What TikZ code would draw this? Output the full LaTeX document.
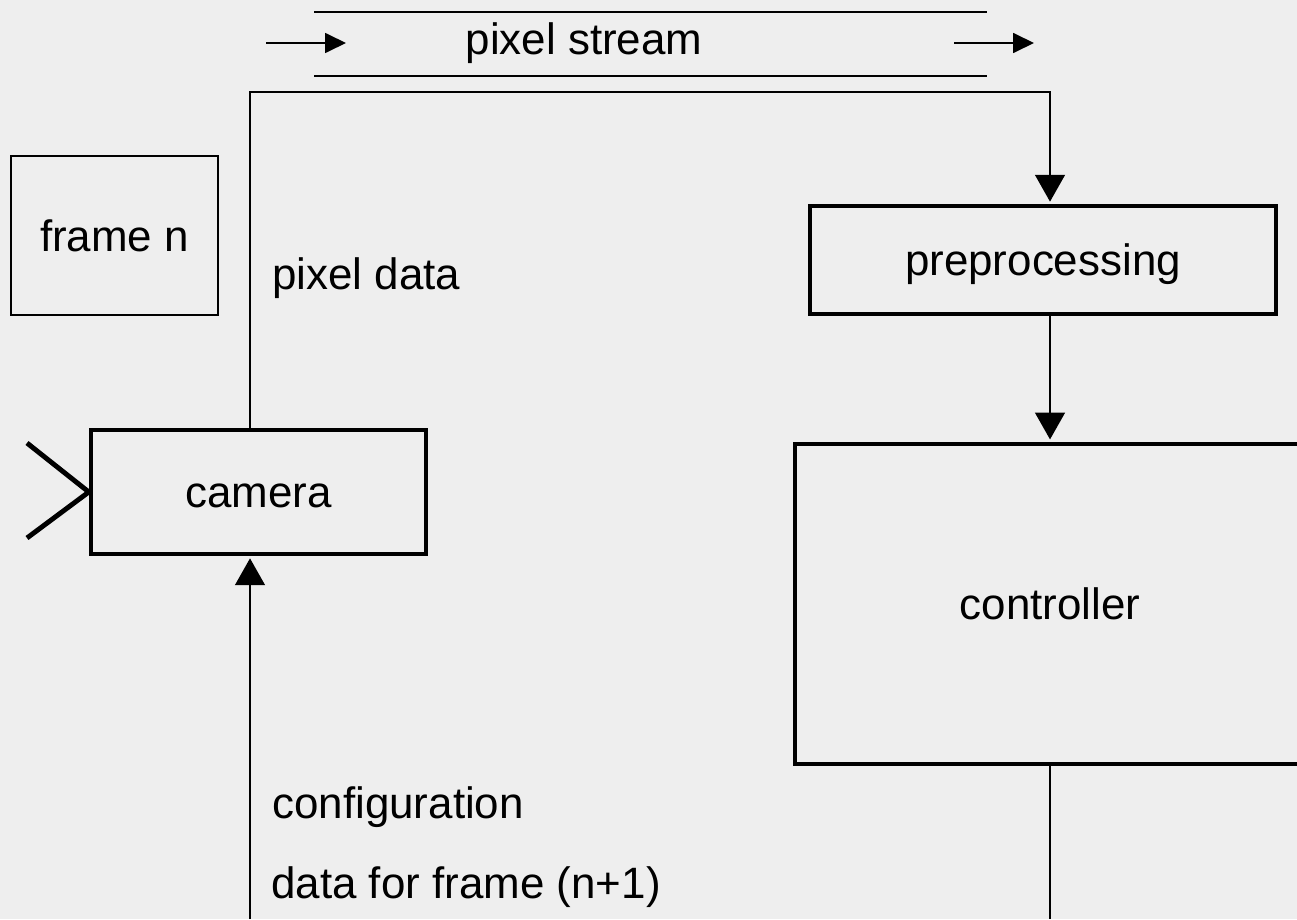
\documentclass[tikz,border=0pt]{standalone}
\usepackage{fontspec}
\setmainfont{Liberation Sans}
\usetikzlibrary{arrows.meta}
\definecolor{bggray}{RGB}{238,238,238}
\tikzset{
  block/.style={draw,line width=2.55pt,font=\fontsize{25}{30}\selectfont,text height=17.9pt,text depth=0pt,inner sep=0pt},
  thinblock/.style={block,line width=1.13pt},
  lbl/.style={font=\fontsize{25}{30}\selectfont,inner sep=0pt,anchor=base west},
  wire/.style={line width=1.13pt},
  flow/.style={wire,shorten >=1.2pt,-{Triangle[length=15.3pt,width=17pt]}},
  streamarrow/.style={wire,-{Triangle[length=11.9pt,width=11.3pt]}},
}
\begin{document}
\begin{tikzpicture}[x=0.02cm,y=-0.02cm]
\useasboundingbox (0,0) rectangle (1297,919);
\fill[bggray] (0,0) rectangle (1297,919);
\node[thinblock,minimum width=4.14cm,minimum height=3.18cm] (frame) at (114.5,235.5) {frame n};
\node[block,minimum width=6.7cm,minimum height=2.48cm] (camera) at (258.5,492) {camera};
\node[block,minimum width=9.32cm,minimum height=2.16cm] (pre) at (1043,260) {preprocessing};
\node[block,minimum width=10.2cm,minimum height=6.41cm] (ctrl) at (1050,604) {controller};
\node[lbl,anchor=base] (stream) at (584,55) {pixel stream};
\draw[wire] (314,12) -- (987,12);
\draw[wire] (314,76) -- (987,76);
\coordinate (s1) at (266,43);
\coordinate (s2) at (346,43);
\coordinate (s3) at (954,43);
\coordinate (s4) at (1034,43);
\draw[streamarrow] (s1) -- (s2);
\draw[streamarrow] (s3) -- (s4);
\coordinate (lensT) at (27,443);
\coordinate (lensB) at (27,538);
\draw[line width=2.8pt] (lensT) -- (camera.west) -- (lensB);
\coordinate (upL) at (250,92);
\coordinate (upR) at (1050,92);
\draw[flow] (camera.north -| upL) |- (upR) -- (pre.north -| upR);
\draw[flow] (pre.south -| ctrl.north) -- (ctrl.north);
\coordinate (ctrlOut) at (1050,919);
\draw[wire] (ctrl.south) -- (ctrlOut);
\coordinate (cfgIn) at (250,919);
\draw[flow] (cfgIn) -- (camera.south -| cfgIn);
\node[lbl] (pixdata) at (272,289) {pixel data};
\node[lbl] (cfg1) at (272,818) {configuration};
\node[lbl] (cfg2) at (271,898) {data for frame (n+1)};
\end{tikzpicture}
\end{document}
